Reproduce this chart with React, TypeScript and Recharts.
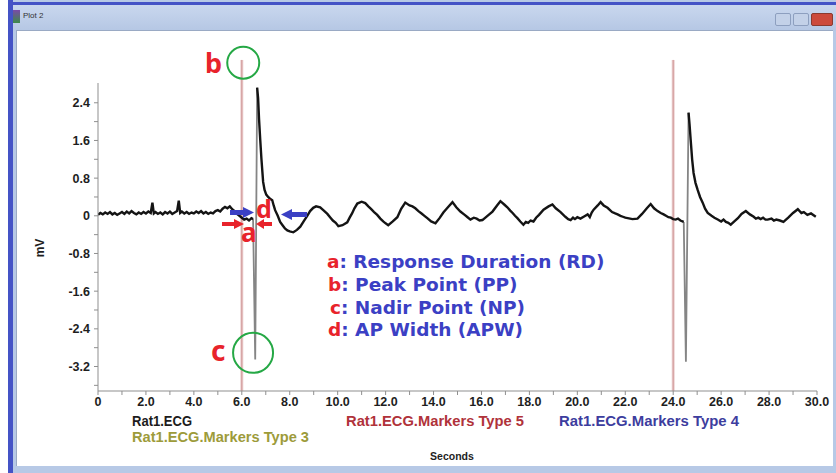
import React from 'react';
import { LineChart, Line, XAxis, YAxis, ReferenceLine, ReferenceDot } from 'recharts';

// Rat1.ECG trace, [seconds, mV]
const ecgBefore: [number, number][] = [
  [0, 0.02], [0.1, 0.06], [0.2, 0.03], [0.3, 0.07], [0.4, 0.04], [0.5, 0.08], [0.6, 0.03], [0.7, 0.06],
  [0.8, 0.02], [0.9, 0.05], [1.0, 0.08], [1.1, 0.04], [1.2, 0.09], [1.3, 0.05], [1.4, 0.1], [1.5, 0.06],
  [1.6, 0.03], [1.7, 0.07], [1.8, 0.04], [1.9, 0.08], [2.0, 0.05], [2.1, 0.09], [2.2, 0.06], [2.27, 0.28],
  [2.33, 0.05], [2.4, 0.08], [2.5, 0.04], [2.6, 0.07], [2.7, 0.03], [2.8, 0.08], [2.9, 0.05], [3.0, 0.09],
  [3.1, 0.04], [3.2, 0.07], [3.3, 0.1], [3.37, 0.32], [3.43, 0.06], [3.5, 0.09], [3.6, 0.05], [3.7, 0.08],
  [3.8, 0.04], [3.9, 0.07], [4.0, 0.05], [4.1, 0.09], [4.2, 0.06], [4.3, 0.1], [4.4, 0.05], [4.5, 0.08],
  [4.6, 0.04], [4.7, 0.07], [4.8, 0.05], [4.9, 0.1], [5.0, 0.12], [5.1, 0.09], [5.2, 0.15], [5.3, 0.19],
  [5.4, 0.16], [5.5, 0.2], [5.6, 0.14], [5.7, 0.1], [5.8, 0.04], [5.9, 0.0], [6.0, -0.04], [6.1, -0.08],
  [6.2, -0.06], [6.3, -0.1], [6.4, -0.05], [6.47, -0.07],
];

const ecgAfterFirst: [number, number][] = [
  [6.64, 2.72], [6.68, 2.5], [6.72, 2.05], [6.77, 1.61], [6.82, 1.2], [6.89, 0.72], [6.95, 0.55], [7.02, 0.45],
  [7.1, 0.4], [7.18, 0.36], [7.27, 0.33], [7.33, 0.22], [7.39, 0.12], [7.5, 0.0], [7.6, -0.13], [7.7, -0.2],
  [7.8, -0.27], [7.9, -0.31], [8.0, -0.33], [8.15, -0.35], [8.3, -0.3], [8.44, -0.23], [8.58, -0.12], [8.73, 0.0],
  [8.85, 0.1], [8.98, 0.17], [9.1, 0.2], [9.27, 0.18], [9.4, 0.12], [9.57, 0.04], [9.7, -0.04], [9.8, -0.1],
  [9.92, -0.15], [10.03, -0.22], [10.2, -0.2], [10.4, -0.14], [10.5, -0.04], [10.6, 0.05], [10.7, 0.16],
  [10.82, 0.26], [11.0, 0.3], [11.15, 0.27], [11.28, 0.2], [11.4, 0.14], [11.52, 0.08], [11.65, 0.02],
  [11.78, -0.06], [11.9, -0.12], [12.0, -0.16], [12.11, -0.2], [12.3, -0.12], [12.49, -0.03], [12.65, 0.15],
  [12.82, 0.28], [13.0, 0.22], [13.12, 0.2], [13.24, 0.16], [13.37, 0.1], [13.5, 0.05], [13.62, 0.0],
  [13.74, -0.05], [13.9, -0.12], [14.08, -0.16], [14.25, -0.05], [14.41, 0.07], [14.6, 0.18], [14.79, 0.29],
  [14.95, 0.18], [15.12, 0.09], [15.3, 0.02], [15.42, -0.03], [15.54, -0.08], [15.68, -0.04], [15.8, -0.06],
  [15.92, -0.1], [16.04, -0.09], [16.25, 0.0], [16.46, 0.09], [16.65, 0.22], [16.79, 0.31], [16.95, 0.24],
  [17.08, 0.18], [17.2, 0.11], [17.3, 0.06], [17.4, 0.0], [17.5, -0.05], [17.62, -0.12], [17.75, -0.19],
  [17.85, -0.13], [17.95, -0.15], [18.05, -0.1], [18.17, -0.12], [18.28, -0.04], [18.4, 0.02], [18.59, 0.13],
  [18.8, 0.2], [18.96, 0.24], [19.1, 0.16], [19.3, 0.08], [19.5, -0.02], [19.62, -0.07], [19.72, -0.09],
  [19.82, -0.04], [19.9, -0.07], [20.0, -0.03], [20.13, -0.06], [20.3, -0.01], [20.43, 0.03], [20.52, -0.03],
  [20.6, 0.07], [20.68, 0.13], [20.85, 0.22], [20.97, 0.29], [21.1, 0.22], [21.26, 0.17], [21.45, 0.08],
  [21.58, 0.05], [21.68, 0.03], [21.8, 0.0], [21.9, -0.02], [22.0, -0.04], [22.1, -0.05], [22.3, -0.07],
  [22.51, -0.06], [22.7, 0.04], [22.9, 0.16], [23.06, 0.25], [23.2, 0.16], [23.35, 0.1], [23.48, 0.06],
  [23.6, 0.03], [23.7, 0.0], [23.8, -0.03], [23.9, -0.04], [24.0, -0.07], [24.1, -0.08], [24.2, -0.06],
  [24.3, -0.1], [24.44, -0.13],
];

const ecgAfterSecond: [number, number][] = [
  [24.64, 2.19], [24.68, 1.95], [24.73, 1.61], [24.79, 1.2], [24.85, 0.91], [24.93, 0.7], [25.02, 0.55],
  [25.12, 0.4], [25.23, 0.28], [25.33, 0.15], [25.44, 0.06], [25.6, 0.0], [25.72, -0.04], [25.86, -0.08],
  [26.0, -0.12], [26.1, -0.08], [26.2, -0.13], [26.3, -0.15], [26.4, -0.19], [26.55, -0.12], [26.7, -0.05],
  [26.85, 0.04], [27.03, 0.1], [27.2, 0.03], [27.36, -0.02], [27.45, -0.06], [27.55, -0.04], [27.65, -0.07],
  [27.75, -0.04], [27.85, -0.08], [27.94, -0.08], [28.1, -0.06], [28.2, -0.1], [28.3, -0.08], [28.45, -0.1],
  [28.6, -0.13], [28.8, -0.04], [29.0, 0.06], [29.2, 0.14], [29.35, 0.06], [29.45, 0.08], [29.6, 0.02],
  [29.75, 0.05], [29.95, -0.02],
];

// the fast stimulus deflections, drawn in grey
const spikeFirst: [number, number][] = [[6.47, -0.07], [6.56, -3.05], [6.64, 2.72]];
const spikeSecond: [number, number][] = [[24.44, -0.13], [24.53, -3.1], [24.64, 2.19]];

// Rat1.ECG.Markers Type 5
const markerTimes = [6.0, 24.0];

const xTicks = [0, 1, 2, 3, 4, 5, 6, 7, 8, 9, 10, 11, 12, 13, 14, 15, 16, 17, 18, 19, 20, 21, 22, 23, 24, 25, 26, 27, 28, 29, 30];
const yTicks = [-3.6, -3.2, -2.8, -2.4, -2.0, -1.6, -1.2, -0.8, -0.4, 0, 0.4, 0.8, 1.2, 1.6, 2.0, 2.4];

const legendRows = [
  { label: 'Rat1.ECG', color: '#1c1c1c' },
  { label: 'Rat1.ECG.Markers Type 3', color: '#9d9b3a' },
  { label: 'Rat1.ECG.Markers Type 5', color: '#b0323a' },
  { label: 'Rat1.ECG.Markers Type 4', color: '#3d3d9e' },
];

const keyItems = [
  { letter: 'a', text: ': Response Duration (RD)' },
  { letter: 'b', text: ': Peak Point (PP)' },
  { letter: 'c', text: ': Nadir Point (NP)' },
  { letter: 'd', text: ': AP Width (APW)' },
];

type Row = { t: number; ecg?: number; spike?: number };

const byTime = new Map<number, Row>();
const put = (pts: [number, number][], key: 'ecg' | 'spike') =>
  pts.forEach(([t, v]) => {
    const r = byTime.get(t) ?? { t };
    r[key] = v;
    byTime.set(t, r);
  });
[ecgBefore, ecgAfterFirst, ecgAfterSecond].forEach((s) => put(s, 'ecg'));
[spikeFirst, spikeSecond].forEach((s) => put(s, 'spike'));
const rows = [...byTime.values()].sort((a, b) => a.t - b.t);

const sans = '"Liberation Sans", Arial, sans-serif';
const keyFont = '"Noto Sans", "Open Sans", sans-serif';
const keyTextFont = '"DejaVu Sans", "Noto Sans", sans-serif';
const RED = '#e8232b';
const BLUE = '#3b40c4';

const fmtX = (v: number) => (v % 2 !== 0 ? '' : v === 0 ? '0' : v.toFixed(1));
const fmtY = (v: number) => (Math.round(v * 10) % 8 !== 0 ? '' : v === 0 ? '0' : v.toFixed(1));

const App: React.FC = () => {
  return (
    <div style={{ position: 'relative', width: 836, height: 473, background: '#fff', overflow: 'hidden' }}>
      <style>{'body{margin:0}'}</style>

      {/* window frame */}
      <div style={{ position: 'absolute', left: 8, top: 0, width: 828, height: 473, background: '#b7c9e6' }} />
      <div style={{ position: 'absolute', left: 8, top: 2, width: 828, height: 3, background: '#4453c6' }} />
      <div style={{ position: 'absolute', left: 8, top: 0, width: 5, height: 473, background: '#4453c6' }} />
      <div style={{ position: 'absolute', left: 13, top: 5, width: 823, height: 26, background: 'linear-gradient(#c9d7ee, #b5c7e4)' }} />
      <div style={{ position: 'absolute', left: 16, top: 30, width: 816, height: 435, background: '#fff', borderTop: '1px solid #9aaac4', borderLeft: '1px solid #9aaac4' }} />
      <div style={{ position: 'absolute', left: 13, top: 10, width: 7, height: 13, background: 'linear-gradient(#7a4aa8, #3c8a4a)' }} />
      <div style={{ position: 'absolute', left: 23, top: 11, fontFamily: sans, fontSize: 8, color: '#333' }}>Plot 2</div>
      <div style={{ position: 'absolute', left: 775, top: 13, width: 14, height: 11, background: '#c3d1e8', border: '1px solid #8d9fbf', borderRadius: 2 }} />
      <div style={{ position: 'absolute', left: 793, top: 13, width: 14, height: 11, background: '#c3d1e8', border: '1px solid #8d9fbf', borderRadius: 2 }} />
      <div style={{ position: 'absolute', left: 811, top: 13, width: 20, height: 11, background: '#cc4a3c', border: '1px solid #8a3a30', borderRadius: 2 }} />

      <LineChart
        width={836}
        height={473}
        data={rows}
        margin={{ top: 83, right: 19, bottom: 52, left: 38 }}
        style={{ position: 'absolute', left: 0, top: 0 }}
      >
        <XAxis
          dataKey="t"
          type="number"
          domain={[0, 30]}
          ticks={xTicks}
          interval={0}
          tickFormatter={fmtX}
          height={30}
          stroke="#8f8f8f"
          tickSize={4}
          tickMargin={2}
          tick={{ fontSize: 12.5, fontWeight: 700, fill: '#1e1e1e', fontFamily: sans }}
          allowDataOverflow
        />
        <YAxis
          type="number"
          domain={[-3.72, 2.82]}
          ticks={yTicks}
          interval={0}
          tickFormatter={fmtY}
          width={60}
          stroke="#8f8f8f"
          tickSize={4}
          tickMargin={4}
          tick={{ fontSize: 12.5, fontWeight: 700, fill: '#1e1e1e', fontFamily: sans }}
          allowDataOverflow
        />
        {markerTimes.map((t) => (
          <ReferenceLine
            key={`mw-${t}`}
            segment={[{ x: t, y: -3.72 }, { x: t, y: 3.31 }]}
            stroke="#ebcfcf"
            strokeWidth={3}
            ifOverflow="visible"
          />
        ))}
        {markerTimes.map((t) => (
          <ReferenceLine
            key={`mn-${t}`}
            segment={[{ x: t, y: -3.72 }, { x: t, y: 3.31 }]}
            stroke="#cf9595"
            strokeWidth={1}
            ifOverflow="visible"
          />
        ))}
        <Line type="linear" dataKey="spike" stroke="#858585" strokeWidth={1.8} dot={false} isAnimationActive={false} />
        <Line type="linear" dataKey="ecg" stroke="#141414" strokeWidth={2.4} dot={false} isAnimationActive={false} />
        {/* b: peak point, c: nadir point */}
        <ReferenceDot x={6.06} y={3.25} r={16} fill="none" stroke="#25a845" strokeWidth={2} ifOverflow="visible" />
        <ReferenceDot x={6.47} y={-2.91} r={20} fill="none" stroke="#25a845" strokeWidth={2} ifOverflow="visible" />
      </LineChart>

      <svg width={836} height={473} style={{ position: 'absolute', left: 0, top: 0, pointerEvents: 'none' }}>
        <text x={41} y={248} transform="rotate(-90 41 248)" textAnchor="middle" dominantBaseline="middle" fontFamily={sans} fontSize={12} fontWeight={700} fill="#1e1e1e">mV</text>

        {/* d arrows */}
        <rect x={230} y={210} width={14} height={5} fill={BLUE} />
        <polygon points="243,207 254,212.5 243,218" fill={BLUE} />
        <rect x={291} y={212} width={16} height={5} fill={BLUE} />
        <polygon points="292,209 281,214.5 292,220" fill={BLUE} />
        {/* a arrows */}
        <rect x={222} y={222} width={13} height={4} fill={RED} />
        <polygon points="234,219 244,224 234,229" fill={RED} />
        <rect x={263} y={222} width={9} height={4} fill={RED} />
        <polygon points="264,219 256,224 264,229" fill={RED} />

        <text x={205} y={73} fontFamily={keyFont} fontSize={27} fontWeight={700} fill={RED}>b</text>
        <text x={211} y={361} fontFamily={keyFont} fontSize={28} fontWeight={700} fill={RED}>c</text>
        <text x={256} y={218} fontFamily={keyFont} fontSize={25} fontWeight={700} fill={RED}>d</text>
        <text x={241} y={242} fontFamily={keyFont} fontSize={26} fontWeight={700} fill={RED}>a</text>

        {keyItems.map((k, i) => (
          <text key={k.letter} x={[327, 328, 330, 328][i]} y={[268, 291, 314, 336][i]} fontFamily={keyTextFont} fontSize={18.5} fontWeight={700}>
            <tspan fill={RED}>{k.letter}</tspan>
            <tspan fill={BLUE}>{k.text}</tspan>
          </text>
        ))}

        <text x={132} y={426} fontFamily={sans} fontSize={14} fontWeight={700} fill={legendRows[0].color} textLength={60} lengthAdjust="spacingAndGlyphs">{legendRows[0].label}</text>
        <text x={132} y={442} fontFamily={sans} fontSize={14} fontWeight={700} fill={legendRows[1].color} textLength={177} lengthAdjust="spacingAndGlyphs">{legendRows[1].label}</text>
        <text x={346} y={426} fontFamily={sans} fontSize={14} fontWeight={700} fill={legendRows[2].color} textLength={178} lengthAdjust="spacingAndGlyphs">{legendRows[2].label}</text>
        <text x={559} y={426} fontFamily={sans} fontSize={14} fontWeight={700} fill={legendRows[3].color} textLength={180} lengthAdjust="spacingAndGlyphs">{legendRows[3].label}</text>
        <text x={452} y={460} textAnchor="middle" fontFamily={sans} fontSize={10.5} fontWeight={700} fill="#1e1e1e">Seconds</text>
      </svg>
    </div>
  );
};

export default App;
